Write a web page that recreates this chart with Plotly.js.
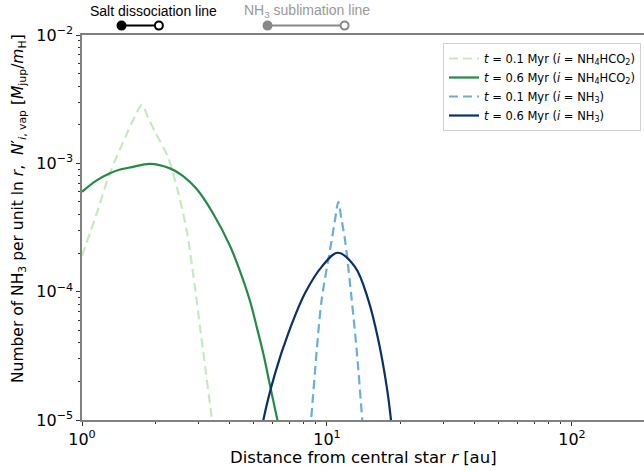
<!DOCTYPE html>
<html>
<head>
<meta charset="utf-8">
<script src="https://cdn.plot.ly/plotly-3.0.1.min.js"></script>
<style>html,body{margin:0;padding:0;background:#fff;}#chart{width:644px;height:471px;}</style>
</head>
<body>
<div id="chart"></div>
<script>
// ---- data ----
const salt01_r = [1.0, 1.14, 1.30, 1.51, 1.64, 1.757, 1.86, 1.986, 2.244, 2.45, 2.675, 2.892, 3.118, 3.394, 3.6];
const salt01_N = [1.9e-4, 3.9e-4, 8.4e-4, 1.63e-3, 2.3e-3, 2.85e-3, 2.28e-3, 1.76e-3, 1.12e-3, 6.3e-4, 3.0e-4, 1.07e-4, 3.5e-5, 1.0e-5, 4e-6];

const salt06_r = [1.0, 1.14, 1.30, 1.43, 1.6, 1.895, 2.286, 2.58, 2.94, 3.42, 4.02, 4.41, 4.85, 5.18, 5.50, 5.85, 6.24, 6.68];
const salt06_N = [6.0e-4, 7.3e-4, 8.36e-4, 8.95e-4, 9.35e-4, 9.9e-4, 9.14e-4, 8.0e-4, 6.3e-4, 4.1e-4, 2.27e-4, 1.45e-4, 8.45e-5, 5.2e-5, 3.27e-5, 1.87e-5, 1.05e-5, 5.8e-6];

const nh301_r = [8.3, 8.61, 9.08, 9.51, 10.45, 10.8, 11.12, 11.45, 11.85, 12.62, 13.22, 13.93, 14.3];
const nh301_N = [5e-6, 1e-5, 3.5e-5, 8.6e-5, 2.52e-4, 3.7e-4, 5.02e-4, 3.7e-4, 2.52e-4, 8.6e-5, 3.5e-5, 1e-5, 5e-6];

const nh306_r = [5.2, 5.50, 6.14, 6.95, 8.13, 9.51, 11.06, 13.01, 14.75, 16.2, 17.53, 18.25, 18.7];
const nh306_N = [5e-6, 1e-5, 2.31e-5, 4.73e-5, 9.7e-5, 1.56e-4, 2.01e-4, 1.56e-4, 8.6e-5, 4.2e-5, 1.82e-5, 1e-5, 6e-6];

const seriesNames = [
  '<i>t</i> = 0.1 Myr (<i>i</i> = NH<sub>4</sub>HCO<sub>2</sub>)',
  '<i>t</i> = 0.6 Myr (<i>i</i> = NH<sub>4</sub>HCO<sub>2</sub>)',
  '<i>t</i> = 0.1 Myr (<i>i</i> = NH<sub>3</sub>)',
  '<i>t</i> = 0.6 Myr (<i>i</i> = NH<sub>3</sub>)'
];

// top marker lines (start = filled, end = open), radii in au
const saltLine_r = [1.45, 2.06];
const nh3Line_r = [5.72, 11.8];

const xTickVals = [1, 10, 100];
const xTickText = ['10<sup>0</sup>', '10<sup>1</sup>', '10<sup>2</sup>'];
const yTickVals = [1e-5, 1e-4, 1e-3, 1e-2];
const yTickText = ['10<sup>−5</sup>', '10<sup>−4</sup>', '10<sup>−3</sup>', '10<sup>−2</sup>'];

// ---- build ----
const xMinor = [];
for (const d of [1, 10, 100]) for (let k = 2; k <= 9; k++) xMinor.push(k * d);
const yMinor = [];
for (const d of [1e-5, 1e-4, 1e-3]) for (let k = 2; k <= 9; k++) yMinor.push(k * d);

const FONT = 'DejaVu Sans, sans-serif';
const traces = [
  {x: salt01_r, y: salt01_N, name: seriesNames[0], mode: 'lines',
   line: {color: '#c7e9c0', width: 2.2, dash: '9px,5px', shape: 'spline', smoothing: 0.8}},
  {x: salt06_r, y: salt06_N, name: seriesNames[1], mode: 'lines',
   line: {color: '#238b45', width: 2.2, shape: 'spline', smoothing: 1.0}},
  {x: nh301_r, y: nh301_N, name: seriesNames[2], mode: 'lines',
   line: {color: '#6baed6', width: 2.2, dash: '9px,5px', shape: 'spline', smoothing: 0.8}},
  {x: nh306_r, y: nh306_N, name: seriesNames[3], mode: 'lines',
   line: {color: '#08306b', width: 2.2, shape: 'spline', smoothing: 1.0}},
  // top indicator lines
  {x: saltLine_r, y: [8, 8], xaxis: 'x2', yaxis: 'y2', mode: 'lines', showlegend: false,
   line: {color: '#000000', width: 2}, hoverinfo: 'skip', cliponaxis: false},
  {x: saltLine_r, y: [8, 8], xaxis: 'x2', yaxis: 'y2', mode: 'markers', showlegend: false,
   marker: {size: 8, color: ['#000000', '#ffffff'], line: {color: '#000000', width: 2}},
   hoverinfo: 'skip', cliponaxis: false},
  {x: nh3Line_r, y: [8, 8], xaxis: 'x2', yaxis: 'y2', mode: 'lines', showlegend: false,
   line: {color: '#888888', width: 2}, hoverinfo: 'skip', cliponaxis: false},
  {x: nh3Line_r, y: [8, 8], xaxis: 'x2', yaxis: 'y2', mode: 'markers', showlegend: false,
   marker: {size: 8, color: ['#888888', '#ffffff'], line: {color: '#888888', width: 2}},
   hoverinfo: 'skip', cliponaxis: false}
];

const xRange = [0, 2.294];
const layout = {
  width: 644, height: 471,
  margin: {l: 82, r: 0, t: 0, b: 51},
  paper_bgcolor: '#ffffff', plot_bgcolor: '#ffffff',
  font: {family: FONT, color: '#000000'},
  showlegend: true,
  xaxis: {
    type: 'log', range: xRange, domain: [0, 1], anchor: 'y',
    tickmode: 'array', tickvals: xTickVals, ticktext: xTickText,
    ticks: 'outside', ticklen: 4, tickwidth: 1, tickcolor: '#333333',
    tickfont: {family: FONT, size: 16, color: '#000000'},
    showline: true, linecolor: '#808080', linewidth: 1.6, mirror: true,
    showgrid: false, zeroline: false,
    minor: {tickmode: 'array', tickvals: xMinor, ticks: 'outside', ticklen: 2.5, tickwidth: 1, tickcolor: '#333333', showgrid: false}
  },
  yaxis: {
    type: 'log', range: [-5, -2], domain: [0, 385 / 420], anchor: 'x',
    tickmode: 'array', tickvals: yTickVals, ticktext: yTickText,
    ticks: 'outside', ticklen: 4, tickwidth: 1, tickcolor: '#333333',
    tickfont: {family: FONT, size: 16, color: '#000000'},
    showline: true, linecolor: '#808080', linewidth: 1.6, mirror: false,
    showgrid: false, zeroline: false,
    minor: {tickmode: 'array', tickvals: yMinor, ticks: 'outside', ticklen: 2.5, tickwidth: 1, tickcolor: '#333333', showgrid: false}
  },
  xaxis2: {type: 'log', range: xRange, domain: [0, 1], anchor: 'y2', visible: false, showgrid: false, zeroline: false},
  yaxis2: {range: [0, 420 * 0.08], domain: [0.92, 1], anchor: 'x2', visible: false, showgrid: false, zeroline: false},
  legend: {
    x: (641 - 82) / 562, xanchor: 'right', y: (420 - 43) / 420, yanchor: 'top',
    bgcolor: '#ffffff', bordercolor: '#d0d0d0', borderwidth: 1,
    font: {family: FONT, size: 11.5, color: '#000000'},
    itemwidth: 30, tracegroupgap: 0
  },
  annotations: [
    {text: 'Salt dissociation line', xref: 'paper', yref: 'paper',
     x: (153 - 82) / 562, y: (420 - 11) / 420, xanchor: 'center', yanchor: 'middle',
     showarrow: false, font: {family: 'Liberation Sans, Arial, sans-serif', size: 14, color: '#000000'}},
    {text: 'NH<sub>3</sub> sublimation line', xref: 'paper', yref: 'paper',
     x: (307 - 82) / 562, y: (420 - 11) / 420, xanchor: 'center', yanchor: 'middle',
     showarrow: false, font: {family: 'Liberation Sans, Arial, sans-serif', size: 14, color: '#999999'}},
    {text: 'Distance from central star <i>r</i> [au]', xref: 'paper', yref: 'paper',
     x: 0.5, y: (420 - 458) / 420, xanchor: 'center', yanchor: 'middle',
     showarrow: false, font: {family: FONT, size: 16.5, color: '#000000'}},
    {text: 'Number of NH<sub>3</sub> per unit ln <i>r</i>,  <i>N</i>′<sub><i>i</i>, vap</sub> [<i>M</i><sub>jup</sub>/<i>m</i><sub>H</sub>]',
     xref: 'paper', yref: 'paper', textangle: -90,
     x: (19 - 82) / 562, y: (420 - 209) / 420, xanchor: 'center', yanchor: 'middle',
     showarrow: false, font: {family: FONT, size: 15.5, color: '#000000'}}
  ]
};

Plotly.newPlot('chart', traces, layout, {displayModeBar: false, staticPlot: true});
</script>
</body>
</html>
